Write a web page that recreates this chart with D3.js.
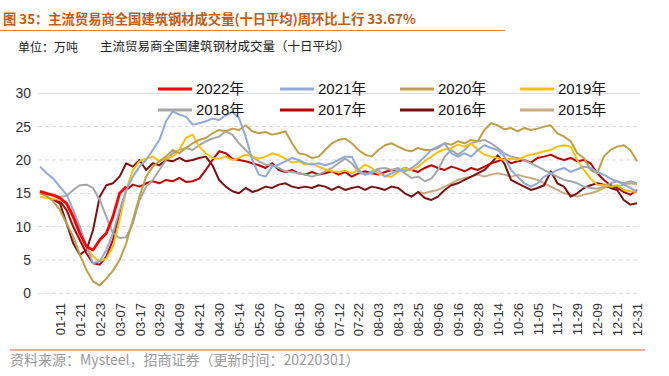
<!DOCTYPE html>
<html><head><meta charset="utf-8">
<script src="https://cdn.jsdelivr.net/npm/d3@7"></script>
<style>
html,body{margin:0;padding:0;background:#fff;}
svg{display:block;font-family:"Liberation Sans",Arial,"Noto Sans CJK SC",sans-serif;}
</style></head>
<body><svg id="c" width="669" height="376"></svg>
<script>
const tickLabels = ["01-11","01-21","02-23","03-07","03-17","03-29","04-09","04-21","04-30","05-14","05-26","06-07","06-18","06-30","07-12","07-22","08-03","08-13","08-25","09-06","09-16","09-28","10-14","10-26","11-05","11-17","11-29","12-09","12-21","12-31"];
const yTicks = [0,5,10,15,20,25,30];
const years = ["2022年","2021年","2020年","2019年","2018年","2017年","2016年","2015年"];
const colors = ["#FF0000","#8EA9DB","#BF9F45","#FFC000","#A6A6A6","#C00000","#7A1010","#C9AA80"];

const s2022 = [15.3,15,14.7,14.3,13.5,11.5,9,7,6.5,8,9,11.5,15,16];
const s2021 = [19,18,17.2,16,14.8,12.5,10,7,4.5,4.8,6.5,9,12.5,15.5,17.5,19,20,21.5,23,25.8,27.3,26.8,26.5,25.3,25.5,25.8,26.2,26,26.7,27.2,26.3,23.5,20,17.8,17.5,19,19.3,19.8,20.3,20,19.5,19.3,19.5,19.2,19.5,20,20.5,20.5,18.5,17.8,18,18.5,17.5,18,18.5,18.3,18.8,19.5,20.5,21.5,22,22.5,21,20.5,21,20.5,21.5,22.2,21.8,21.5,20.5,18.5,17.5,16.5,16,16.5,17.5,18,18.5,18.8,18.2,18.6,19,18.8,18.2,17.8,17.2,16.8,16.3,15.8,15.2];
const s2020 = [15,14.6,13.8,12.5,10.5,8.5,5.8,3.5,1.8,1.2,2.2,3.4,5,7.5,11,14.5,17.5,19,19.8,20.5,21.5,21,21.8,22.5,23,23.3,24,24.5,24.3,24.7,24.5,25.2,24.3,24,24.2,23.8,24,24.3,22.5,21,20.8,20.3,20.5,21.5,22.5,23,23.2,22.5,21.5,20.8,20.5,21.5,22.2,22.5,22,21.5,21.3,21.8,21.5,21.5,21.8,22.5,22.3,22.8,22.5,23,22.8,24.5,25.5,25.2,24.6,24.8,24.3,24.8,24.5,24.7,25,25.2,24,23.5,22.8,21,20.3,18.5,18,20.5,21.5,22,22.2,21.5,19.8];
const s2019 = [14.5,14.3,14.2,14,13.5,12,9.5,7,5.5,4.8,5.2,7,11,15.5,18.5,19.8,20.2,20.5,19.8,20.3,20.5,21.5,23.3,23.8,22,21,20.3,20.2,20.5,20,20.3,20.8,20.5,20.2,20.5,21,20.7,20.2,19.6,19.8,19.3,19.5,19,18.6,18.3,18.2,18.4,18,18.5,19.3,18.8,18,17.6,17.5,18.2,18.8,18.5,19,19.8,20.5,21.2,21.6,21.8,22.3,22,22.5,21.5,20.8,20.5,20.3,20,20.2,20,20.5,20.8,21,21.3,21.5,22,22.2,22,20,18.5,17.2,16.3,16.2,16,16.2,15.5,15.3,15.2];
const s2018 = [15,14.8,14.8,14.5,14.6,15.5,16.2,16.3,15.8,14,11.5,9,8.3,8.4,10.5,14,16,17,18.5,20,21,21.5,21.8,21.5,22.2,22.8,23.2,23.5,24.3,23.8,22.5,21.5,20.5,19.8,19.3,19.2,18.8,18.3,18.2,18,17.8,17.5,17.8,18.3,18.8,19.5,20.2,19.5,18.2,17.8,18.2,18.7,18.8,18.5,18.8,18,17.3,17.5,16.8,17.2,18.5,20.5,21.5,20.8,21.5,22.5,22.8,23,22.5,21.8,21,20.5,20.3,20,19.5,19,18.5,18,17.5,17,16.8,16.5,16,15.8,15.7,16,16.5,16.8,16.5,16.8,16.5];
const s2017 = [null,null,14,13.8,12.5,10,8,6,4.5,4.3,5.5,8,12,15.5,16.3,16,16.5,16.8,16.5,17,16.8,17.3,16.7,16.8,17.2,18.5,20,21.3,21,20.2,20,19.8,19.5,19.2,18.8,19.5,18.5,18.2,18.5,18,17.8,18.2,17.8,18,18.3,17.8,18.2,17.5,18,18.3,18,17.8,18.2,18.5,18.3,18.8,18.5,18.2,18.8,19.2,18.8,18.5,19,18.7,18.3,18.8,18.5,19,19.5,19.8,20.2,19.5,19.8,20,19.6,20.3,20.5,20.8,20.3,20,20.3,19.8,20,19.5,18,17,16.2,15.8,15.2,14.8,15.5];
const s2016 = [null,null,14,13.5,10.5,7.5,5.8,6.5,9.5,14.5,16.2,16.5,17.5,19.5,19,20,18.5,19.5,19.2,20,19.8,20.3,19.8,20,20.3,20.5,19.2,17,16,15.3,15,15.8,15.2,15.5,16,15.8,16.3,16.5,16,15.8,16,15.8,16.2,16,15.5,16,15.5,15.8,16,15.5,16,15.8,15.5,16,15.8,15,14.5,15.2,14.3,14,14.5,15.5,16.2,16.5,17,17.5,18,18.5,19.5,20.7,19.5,17,16.5,16,15.5,15.8,16.2,18.3,16.5,16,14.5,15,15.8,16.2,16.5,16.3,15.8,15.5,14,13.3,13.5];
const s2015 = [null,null,null,null,null,null,null,null,null,null,null,null,null,null,null,null,null,null,null,null,null,null,null,null,null,null,null,null,null,null,null,null,null,null,null,null,null,null,null,null,null,null,null,null,null,null,null,null,null,null,null,null,null,null,null,null,null,15.2,15,15.3,15.5,16,16.5,17,17.3,17.5,17.8,17.5,17.8,18,17.8,17.5,17.8,17.5,17.3,17,16.5,16,15.5,15,14.8,14.5,14.8,15,15.3,15.8,16.2,16,16.3,16.5,16.3];

const seriesList = [s2022,s2021,s2020,s2019,s2018,s2017,s2016,s2015];

const svg = d3.select("#c");
const N = s2021.length;
const x = d3.scaleLinear().domain([0, N-1]).range([40, 637]);
const y = d3.scaleLinear().domain([0, 30]).range([293.3, 93.3]);

// title
svg.append("text").attr("x",3).attr("y",24)
  .style("font-family",'"Noto Sans CJK SC",sans-serif').style("font-weight","bold")
  .style("font-size","13.3px").attr("fill","#C55A11")
  .text("图 35：主流贸易商全国建筑钢材成交量(十日平均)周环比上行 33.67%");
svg.append("line").attr("x1",0).attr("x2",505).attr("y1",30.5).attr("y2",30.5)
  .attr("stroke","#E0823C").attr("stroke-width",1.2);
svg.append("text").attr("x",18).attr("y",52)
  .style("font-family",'"Noto Sans CJK SC",sans-serif').style("font-size","12px").attr("fill","#222")
  .text("单位：万吨");
svg.append("text").attr("x",100).attr("y",51)
  .style("font-family",'"Noto Sans CJK SC",sans-serif').style("font-size","12.5px").attr("fill","#222")
  .text("主流贸易商全国建筑钢材成交量（十日平均）");

// grid
svg.append("g").selectAll("line").data(yTicks).join("line")
  .attr("x1",38).attr("x2",640)
  .attr("y1",d=>y(d)).attr("y2",d=>y(d))
  .attr("stroke","#D9D9D9").attr("stroke-width",1)
  .attr("stroke-dasharray",d=>d===30?null:"4,3");

// y axis
const ya = svg.append("g").attr("transform","translate(31,0)")
  .call(d3.axisLeft(y).tickValues(yTicks).tickSize(0).tickPadding(0));
ya.select(".domain").remove();
ya.selectAll("text").style("font-size","14px").attr("fill","#333").style("font-family",'"Liberation Sans",Arial,sans-serif');

// x axis
const xa = svg.append("g").attr("transform","translate(0,303)")
  .call(d3.axisBottom(x).tickValues(d3.range(3, N, 3)).tickFormat((d,i)=>tickLabels[i]).tickSize(0));
xa.select(".domain").remove();
xa.selectAll("text")
  .attr("transform","rotate(-90)").attr("x",0).attr("y",0).attr("dy","0.35em")
  .style("text-anchor","end").style("font-size","13px").attr("fill","#333")
  .style("font-family",'"Liberation Sans",Arial,sans-serif');

// lines
const line = d3.line().defined(d=>d!=null).x((d,i)=>x(i)).y(d=>y(d));
const order = [7,6,5,4,3,2,1,0];
svg.append("g").selectAll("path").data(order).join("path")
  .attr("d",k=>line(seriesList[k]))
  .attr("fill","none").attr("stroke",k=>colors[k])
  .attr("stroke-width",k=>k===0?2.8:2).attr("stroke-linejoin","round");

// legend
const colX = [158,280,400,520];
const rowY = [89,110];
const lg = svg.append("g").selectAll("g").data(years).join("g")
  .attr("transform",(d,i)=>`translate(${colX[i%4]},${rowY[Math.floor(i/4)]})`);
lg.append("line").attr("x1",0).attr("x2",34).attr("y1",0).attr("y2",0)
  .attr("stroke",(d,i)=>colors[i]).attr("stroke-width",3);
lg.append("text").attr("x",38).attr("y",0).attr("dy","0.36em")
  .style("font-size","15px").attr("fill","#111")
  .style("font-family",'"Liberation Sans",Arial,"Noto Sans CJK SC",sans-serif')
  .text(d=>d);

// footer
svg.append("line").attr("x1",10).attr("x2",645).attr("y1",350).attr("y2",350)
  .attr("stroke","#C0603A").attr("stroke-width",1.2);
svg.append("text").attr("x",10).attr("y",365)
  .style("font-family",'"Noto Sans CJK SC",sans-serif').style("font-size","14px").attr("fill","#9A9A9A")
  .text("资料来源：Mysteel，招商证券（更新时间：20220301）");
</script></body></html>
